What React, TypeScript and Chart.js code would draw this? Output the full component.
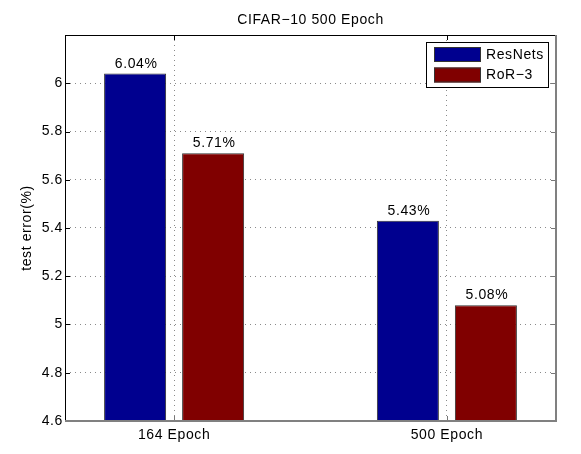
import React, { useEffect, useRef } from "react";
import { Chart, registerables } from "chart.js";

Chart.register(...registerables);

const categories = ["164 Epoch", "500 Epoch"];
const resnets = [6.04, 5.43];
const ror3 = [5.71, 5.08];
const seriesNames = ["ResNets", "RoR\u22123"];
const yTicks = [4.6, 4.8, 5, 5.2, 5.4, 5.6, 5.8, 6];
const titleText = "CIFAR\u221210 500 Epoch";
const yTitle = "test error(%)";

const FAMILY = "'Liberation Sans', Arial, sans-serif";
const FONT = "14px " + FAMILY;
const SPACING = "0.6px";
const BLUE = "#00008F";
const RED = "#800000";

const framePlugin = {
  id: "matlabFrame",
  beforeDraw(chart: any) {
    const ctx = chart.ctx;
    ctx.save();
    ctx.fillStyle = "#fff";
    ctx.fillRect(0, 0, chart.width, chart.height);
    ctx.restore();
    (ctx as any).letterSpacing = SPACING;
  },
  afterDatasetsDraw(chart: any) {
    const ctx = chart.ctx;
    const { left, right, top, bottom } = chart.chartArea;
    const ys = chart.scales.y;
    const xs = chart.scales.x;
    ctx.save();
    (ctx as any).letterSpacing = SPACING;
    // bar labels
    ctx.font = FONT;
    ctx.fillStyle = "#000";
    ctx.textAlign = "center";
    ctx.textBaseline = "alphabetic";
    chart.data.datasets.forEach((ds: any, di: number) => {
      const meta = chart.getDatasetMeta(di);
      meta.data.forEach((bar: any, i: number) => {
        const v = ds.data[i].y;
        ctx.fillText(v.toFixed(2) + "%", bar.x + 1, bar.y - 6);
      });
    });
    // inward ticks
    ctx.lineWidth = 1;
    [...yTicks, 6.2].forEach((v) => {
      const py = Math.round(ys.getPixelForValue(v)) + 0.5;
      ctx.strokeStyle = "#000";
      ctx.beginPath();
      ctx.moveTo(left, py);
      ctx.lineTo(left + 5, py);
      ctx.stroke();
      ctx.strokeStyle = "#777";
      ctx.beginPath();
      ctx.moveTo(right - 5, py);
      ctx.lineTo(right, py);
      ctx.stroke();
    });
    categories.forEach((_, i) => {
      const px = Math.round(xs.getPixelForValue(i + 1)) + 0.5;
      ctx.strokeStyle = "#000";
      ctx.beginPath();
      ctx.moveTo(px, top);
      ctx.lineTo(px, top + 5);
      ctx.stroke();
      ctx.strokeStyle = "#777";
      ctx.beginPath();
      ctx.moveTo(px, bottom);
      ctx.lineTo(px, bottom - 5);
      ctx.stroke();
    });
    // frame
    ctx.strokeStyle = "#000";
    ctx.lineWidth = 1;
    ctx.beginPath();
    ctx.moveTo(left + 0.5, bottom);
    ctx.lineTo(left + 0.5, top + 0.5);
    ctx.lineTo(right, top + 0.5);
    ctx.stroke();
    ctx.strokeStyle = "#808080";
    ctx.lineWidth = 2;
    ctx.beginPath();
    ctx.moveTo(left, bottom);
    ctx.lineTo(right, bottom);
    ctx.lineTo(right, top);
    ctx.stroke();
    // title
    ctx.font = FONT;
    ctx.fillStyle = "#000";
    ctx.textAlign = "center";
    ctx.textBaseline = "alphabetic";
    ctx.fillText(titleText, (left + right) / 2, 24);
    // y title
    ctx.save();
    ctx.translate(27, (top + bottom) / 2);
    ctx.rotate(-Math.PI / 2);
    ctx.textBaseline = "middle";
    ctx.fillText(yTitle, 0, 0);
    ctx.restore();
    // legend
    const lx = 426.5, ly = 42.5, lw = 122, lh = 45;
    ctx.fillStyle = "#fff";
    ctx.fillRect(lx, ly, lw, lh);
    ctx.strokeStyle = "#000";
    ctx.lineWidth = 1;
    ctx.strokeRect(lx, ly, lw, lh);
    const colors = [BLUE, RED];
    seriesNames.forEach((name, i) => {
      const sy = 47 + i * 20.5;
      ctx.fillStyle = colors[i];
      ctx.fillRect(434, sy, 47, 15);
      ctx.strokeStyle = "#333";
      ctx.strokeRect(434.5, sy + 0.5, 46, 14);
      ctx.fillStyle = "#000";
      ctx.textAlign = "left";
      ctx.textBaseline = "middle";
      ctx.fillText(name, 486, sy + 8);
    });
    ctx.restore();
  },
};

export default function App() {
  const ref = useRef<HTMLCanvasElement | null>(null);
  useEffect(() => {
    if (!ref.current) return;
    const chart = new Chart(ref.current, {
      type: "bar",
      data: {
        datasets: [
          {
            label: seriesNames[0],
            data: resnets.map((v, i) => ({ x: i + 1, y: v })),
            backgroundColor: BLUE,
            borderColor: "#333",
            borderWidth: 1,
            categoryPercentage: 0.572,
            barPercentage: 0.795,
          },
          {
            label: seriesNames[1],
            data: ror3.map((v, i) => ({ x: i + 1, y: v })),
            backgroundColor: RED,
            borderColor: "#333",
            borderWidth: 1,
            categoryPercentage: 0.572,
            barPercentage: 0.795,
          },
        ],
      } as any,
      options: {
        responsive: false,
        animation: false,
        devicePixelRatio: 1,
        layout: { padding: { left: 0, right: 25, top: 35, bottom: 0 } },
        plugins: {
          legend: { display: false },
          title: { display: false },
          tooltip: { enabled: false },
        },
        scales: {
          x: {
            type: "linear",
            min: 0.6,
            max: 2.4,
            offset: false,
            afterBuildTicks: (s: any) => {
              s.ticks = categories.map((_, i) => ({ value: i + 1 }));
            },
            afterFit: (s: any) => {
              s.height = 33;
            },
            ticks: {
              callback: (_v: any, i: number) => categories[i],
              font: { family: FAMILY, size: 14 },
              color: "#000",
              padding: 6,
              maxRotation: 0,
            },
            grid: {
              offset: false,
              drawTicks: false,
              color: "#8a8a8a",
              lineWidth: 1,
            },
            border: { display: false, dash: [1, 4] },
          },
          y: {
            type: "linear",
            min: 4.6,
            max: 6.2,
            afterBuildTicks: (s: any) => {
              s.ticks = yTicks.map((v) => ({ value: v }));
            },
            afterFit: (s: any) => {
              s.width = 65;
            },
            ticks: {
              callback: (v: any) => String(Math.round(Number(v) * 10) / 10),
              font: { family: FAMILY, size: 14 },
              color: "#000",
              padding: 2,
            },
            grid: {
              drawTicks: false,
              color: "#8a8a8a",
              lineWidth: 1,
            },
            border: { display: false, dash: [1, 4] },
          },
        },
      } as any,
      plugins: [framePlugin],
    });
    return () => chart.destroy();
  }, []);
  return (
    <div style={{ position: "fixed", left: 0, top: 0, width: 581, height: 454 }}>
      <canvas ref={ref} width={581} height={454} />
    </div>
  );
}
